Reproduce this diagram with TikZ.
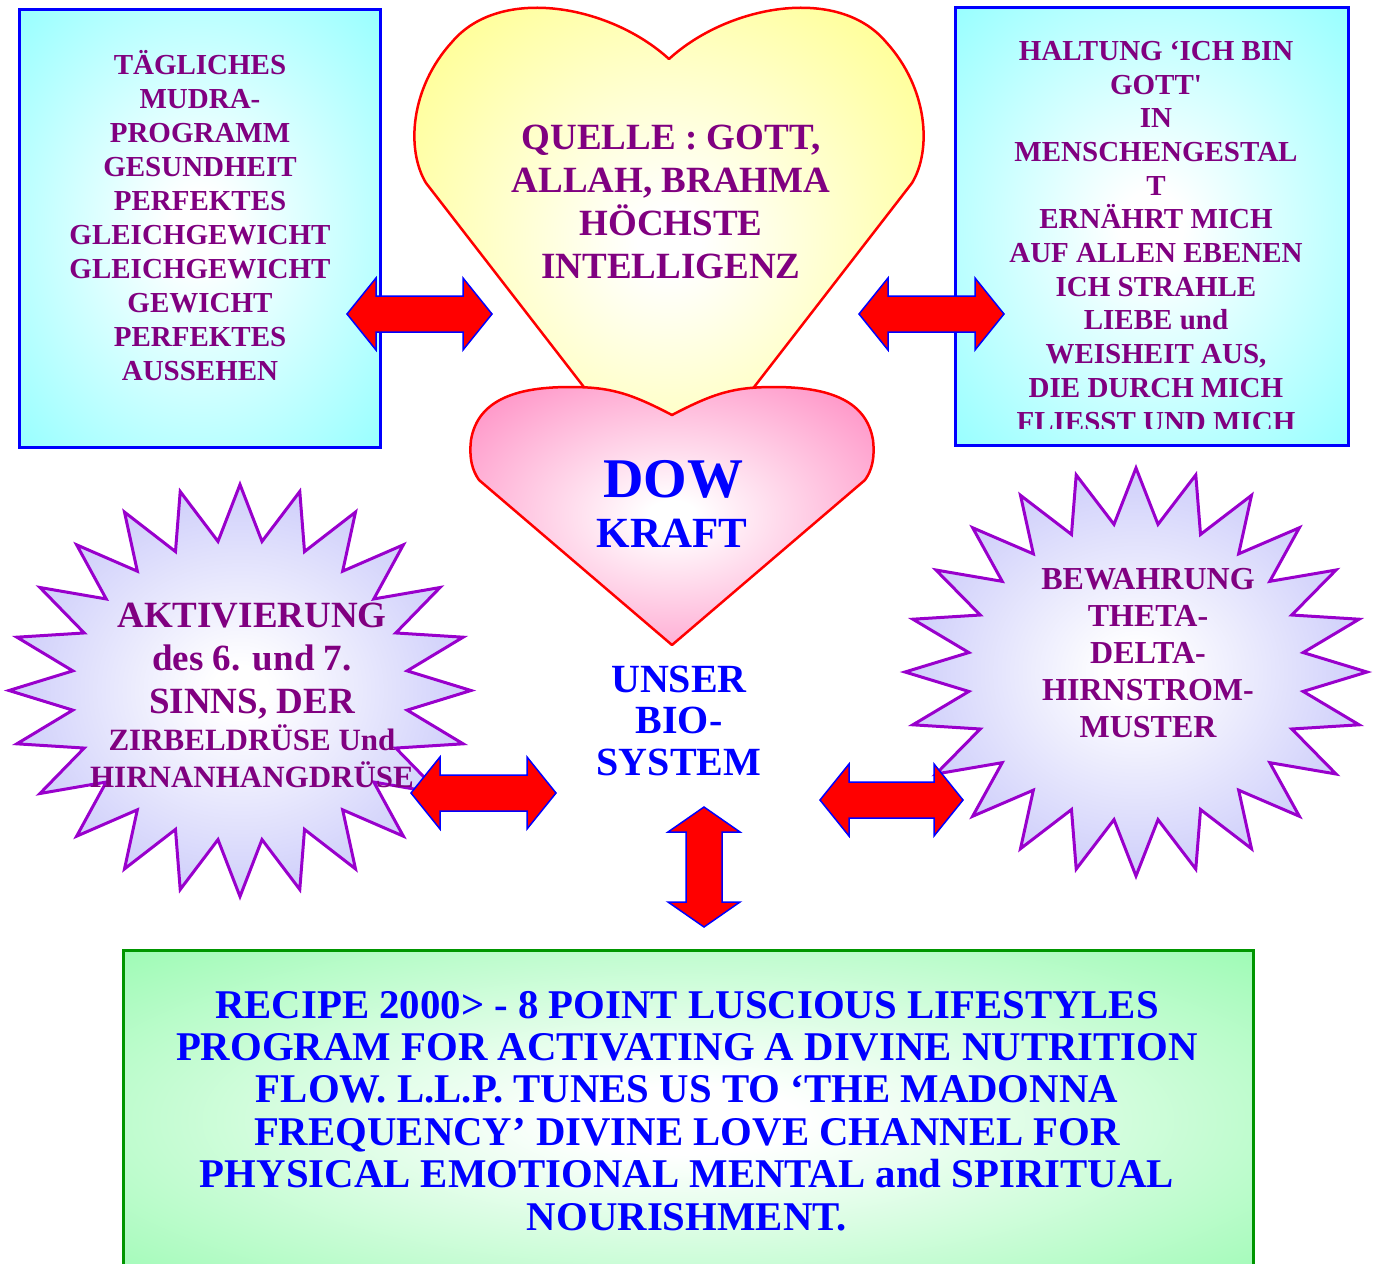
\documentclass[tikz,border=0pt]{standalone}
\usepackage{fontspec}
\setmainfont{Liberation Serif}

\definecolor{lilatext}{RGB}{128,0,128}
\definecolor{cyanfill}{RGB}{150,255,255}
\definecolor{heartyellow}{RGB}{255,255,150}
\definecolor{heartpink}{RGB}{255,150,200}
\definecolor{starfill}{RGB}{200,200,250}
\definecolor{starline}{RGB}{153,0,204}
\definecolor{greenfill}{RGB}{150,250,175}
\definecolor{greenline}{RGB}{0,150,0}

\pgfdeclareradialshading{cyanglow}{\pgfpoint{0bp}{0bp}}{color(0bp)=(white); color(4bp)=(white); color(36bp)=(cyanfill); color(50bp)=(cyanfill)}
\pgfdeclareradialshading{yellowglow}{\pgfpoint{0bp}{0bp}}{color(0bp)=(white); color(3bp)=(white); color(30bp)=(heartyellow); color(50bp)=(heartyellow)}
\pgfdeclareradialshading{pinkglow}{\pgfpoint{0bp}{0bp}}{color(0bp)=(white); color(3bp)=(white); color(32bp)=(heartpink); color(50bp)=(heartpink)}
\pgfdeclareradialshading{starglow}{\pgfpoint{0bp}{0bp}}{color(0bp)=(white); color(3bp)=(white); color(28bp)=(starfill); color(50bp)=(starfill)}
\pgfdeclareradialshading{greenglow}{\pgfpoint{0bp}{0bp}}{color(0bp)=(white); color(5bp)=(white); color(38bp)=(greenfill); color(50bp)=(greenfill)}

\newcommand{\dblharrow}[3]{\draw[blockarrow] (#1,#3) -- (#1+29,#3-36) -- (#1+29,#3-18) -- (#2-29,#3-18) -- (#2-29,#3-36) -- (#2,#3) -- (#2-29,#3+36) -- (#2-29,#3+18) -- (#1+29,#3+18) -- (#1+29,#3+36) -- cycle;}
\newcommand{\dblvarrow}[3]{\draw[blockarrow] (#1,#2) -- (#1+36,#2+25) -- (#1+18,#2+25) -- (#1+18,#3-25) -- (#1+36,#3-25) -- (#1,#3) -- (#1-36,#3-25) -- (#1-18,#3-25) -- (#1-18,#2+25) -- (#1-36,#2+25) -- cycle;}
\newcommand{\burst}[4]{\draw[burst] plot[samples at={0,...,47}, variable=\k] ({#1+(1-0.27*mod(\k,2))*#3*sin(\k*7.5)},{#2-(1-0.27*mod(\k,2))*#4*cos(\k*7.5)}) -- cycle;}

\begin{document}
\begin{tikzpicture}[x=1pt,y=-1pt,
  infobox/.style={draw=blue, line width=3pt, shade, shading=cyanglow},
  recipebox/.style={draw=greenline, line width=3pt, shade, shading=greenglow},
  heartline/.style={draw=red, line width=2.5pt, line join=round},
  burst/.style={draw=starline, line width=3pt, line join=miter, shade, shading=starglow},
  blockarrow/.style={draw=blue, line width=1.5pt, fill=red, line join=miter},
  purpletext/.style={align=center, text=lilatext, anchor=base, font=\bfseries},
  bluetext/.style={align=center, text=blue, anchor=base, font=\bfseries}]
\clip (0,0) rectangle (1377,1264);

\node[infobox, minimum width=361pt, minimum height=438pt] (mudrabox) at (199.5,228) {};
\node[purpletext, font=\bfseries\fontsize{29}{33.9}\selectfont] (mudra) at (200,380) {TÄGLICHES\\MUDRA-\\PROGRAMM\\GESUNDHEIT\\PERFEKTES\\GLEICHGEWICHT\\GLEICHGEWICHT\\GEWICHT\\PERFEKTES\\AUSSEHEN};

\node[infobox, minimum width=393pt, minimum height=438pt] (haltungbox) at (1151.5,226) {};
\begin{scope}
\clip (955,7) rectangle (1348,428);
\node[purpletext, font=\bfseries\fontsize{29}{33.7}\selectfont] (haltung) at (1156,431) {HALTUNG ‘ICH BIN\\GOTT\textquotesingle\\IN\\MENSCHENGESTAL\\T\\ERNÄHRT MICH\\AUF ALLEN EBENEN\\ICH STRAHLE\\LIEBE und\\WEISHEIT AUS,\\DIE DURCH MICH\\FLIESST UND MICH};
\end{scope}

\draw[heartline, shade, shading=yellowglow] (669,59) .. controls (610,5) and (500,-15) .. (452,42) .. controls (410,88) and (406,150) .. (426,183) -- (669,497) -- (912,183) .. controls (932,150) and (928,88) .. (886,42) .. controls (838,-15) and (728,5) .. (669,59) -- cycle;
\draw[heartline, shade, shading=pinkglow] (672,415) .. controls (630,393) and (610,387) .. (570,387) .. controls (520,387) and (478,398) .. (471,440) .. controls (469,458) and (472,470) .. (479,480) -- (672,645) -- (865,480) .. controls (872,470) and (875,458) .. (873,440) .. controls (866,398) and (824,387) .. (774,387) .. controls (734,387) and (714,393) .. (672,415) -- cycle;

\burst{240}{690.5}{231}{206}
\burst{1136}{672}{231}{204}

\node[recipebox, minimum width=1130pt, minimum height=340pt] (recipebox) at (688,1120) {};

\dblharrow{347}{492}{314}
\dblharrow{859}{1004}{314}
\dblharrow{411}{556}{793}
\dblharrow{820}{963}{800}
\dblvarrow{704}{807}{927}

\node[purpletext, font=\bfseries\fontsize{37}{43}\selectfont] (quelle) at (671,278) {QUELLE : GOTT,\\ALLAH, BRAHMA\\HÖCHSTE\\INTELLIGENZ};
\node[bluetext, font=\bfseries\fontsize{56}{56}\selectfont] (dow) at (673,497) {DOW};
\node[bluetext, font=\bfseries\fontsize{43}{43}\selectfont] (kraft) at (672,547) {KRAFT};
\node[bluetext, font=\bfseries\fontsize{40}{41.5}\selectfont] (biosystem) at (679,775) {UNSER\\BIO-\\SYSTEM};

\node[purpletext, font=\bfseries\fontsize{37}{43}\selectfont] (aktivierung) at (252,713) {AKTIVIERUNG\\des 6. und 7.\\SINNS, DER};
\node[purpletext, font=\bfseries\fontsize{31}{37}\selectfont] (druesen) at (252,787) {ZIRBELDRÜSE Und\\HIRNANHANGDRÜSE};
\node[purpletext, font=\bfseries\fontsize{32}{36.8}\selectfont] (bewahrung) at (1148,737) {BEWAHRUNG\\THETA-\\DELTA-\\HIRNSTROM-\\MUSTER};

\node[bluetext, font=\bfseries\fontsize{40.8}{42.4}\selectfont] (recipe) at (687,1230) {RECIPE 2000> - 8 POINT LUSCIOUS LIFESTYLES\\PROGRAM FOR ACTIVATING A DIVINE NUTRITION\\FLOW. L.L.P. TUNES US TO ‘THE MADONNA\\FREQUENCY’ DIVINE LOVE CHANNEL FOR\\PHYSICAL EMOTIONAL MENTAL and SPIRITUAL\\NOURISHMENT.};
\end{tikzpicture}
\end{document}
